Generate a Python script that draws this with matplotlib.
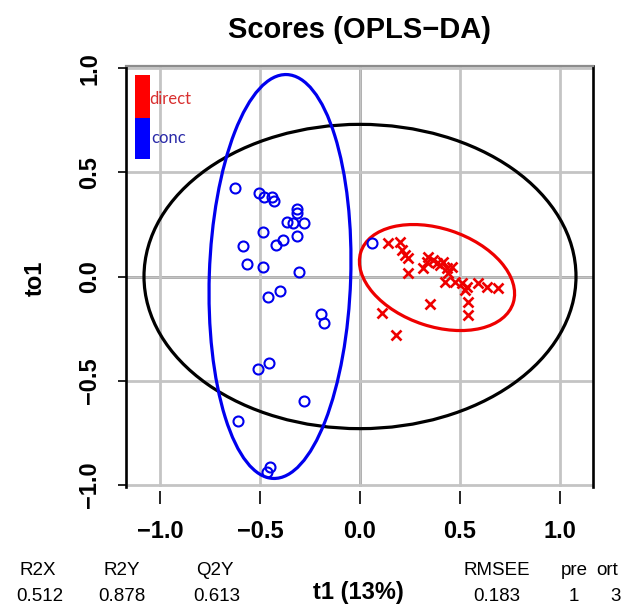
import matplotlib
matplotlib.use('Agg')
import matplotlib.pyplot as plt
from matplotlib.patches import Ellipse, Rectangle
import numpy as np

plt.rcParams['font.family'] = ['Liberation Sans', 'DejaVu Sans']

# Scores.
conc_t1 = [-0.625, -0.504, -0.48, -0.442, -0.43, -0.317, -0.314, -0.367,
           -0.337, -0.28, -0.314, -0.484, -0.387, -0.422, -0.584, -0.564,
           -0.484, -0.304, -0.40, -0.462, -0.197, -0.18, -0.512, -0.455,
           -0.279, -0.609, -0.45, -0.464, 0.058]
conc_to1 = [0.423, 0.402, 0.380, 0.383, 0.364, 0.322, 0.303, 0.260,
            0.255, 0.255, 0.196, 0.212, 0.175, 0.151, 0.146, 0.060,
            0.044, 0.023, -0.070, -0.097, -0.180, -0.221, -0.445, -0.413,
            -0.596, -0.692, -0.915, -0.939, 0.159]

direct_t1 = [0.142, 0.20, 0.208, 0.225, 0.242, 0.242, 0.317, 0.342, 0.333,
             0.367, 0.383, 0.40, 0.417, 0.433, 0.458, 0.425, 0.442, 0.475,
             0.508, 0.533, 0.525, 0.592, 0.633, 0.688, 0.542, 0.542, 0.35,
             0.108, 0.178]
direct_to1 = [0.159, 0.167, 0.127, 0.103, 0.087, 0.015, 0.039, 0.095, 0.071,
              0.079, 0.063, 0.055, 0.071, 0.039, 0.047, -0.025, 0.015, -0.025,
              -0.033, -0.049, -0.065, -0.033, -0.049, -0.057, -0.121, -0.185,
              -0.132, -0.177, -0.281]

# Ellipses: (center, width, height, angle)
hotelling_ellipse = ((0.0, 0.0), 2.16, 1.46, 0.0)
conc_ellipse = ((-0.40, 0.0), 0.707, 1.939, -2.0)
direct_ellipse = ((0.385, -0.005), 0.80, 0.47, -17.5)

tick_values = [-1.0, -0.5, 0.0, 0.5, 1.0]
tick_labels = ['\u22121.0', '\u22120.5', '0.0', '0.5', '1.0']

stat_names = ['R2X', 'R2Y', 'Q2Y', 'RMSEE', 'pre', 'ort']
stat_values = ['0.512', '0.878', '0.613', '0.183', '1', '3']
stat_name_x = [38, 122, 215, 497, 574, 607]
stat_value_x = [40, 122, 217, 497, 574, 616]

W, H = 630, 605
fig = plt.figure(figsize=(W / 100, H / 100), dpi=100)
ax = fig.add_axes([126 / W, 1 - 487 / H, (593 - 126) / W, (487 - 66) / H])

ax.set_xlim(-1.17, 1.165)
ax.set_ylim(-1.01, 1.01)

# Grid and zero lines.
ax.set_xticks(tick_values)
ax.set_yticks(tick_values)
ax.grid(True, color='#C4C4C4', lw=2.0, zorder=0)
ax.axhline(0, color='black', lw=2.0, zorder=1)
ax.axvline(0, color='black', lw=2.0, zorder=1)

# Box.
for side in ['left', 'right']:
    ax.spines[side].set_color('black')
    ax.spines[side].set_linewidth(1.9)
ax.spines['top'].set_color('#8C8C8C')
ax.spines['top'].set_linewidth(1.6)
ax.spines['bottom'].set_position(('outward', 3))
ax.spines['bottom'].set_color('none')

ax.set_xticklabels(tick_labels)
ax.set_yticklabels(tick_labels)
ax.tick_params(axis='x', length=9.4, width=1.2, pad=11, labelsize=17)
ax.tick_params(axis='y', length=5.8, width=1.2, pad=12, labelsize=17)
for lab in ax.get_xticklabels() + ax.get_yticklabels():
    lab.set_fontweight('bold')
plt.setp(ax.get_yticklabels(), rotation=90, va='center')

# Ellipses.
for (c, w, h, a), col in [(hotelling_ellipse, 'black'),
                          (conc_ellipse, '#0000EE'),
                          (direct_ellipse, '#EE0000')]:
    ax.add_patch(Ellipse(c, w, h, angle=a, fill=False, ec=col, lw=2.3,
                         zorder=3))

# Points.
ax.plot(conc_t1, conc_to1, 'o', mfc='none', mec='#0000EE', ms=7.2,
        mew=1.5, zorder=4)
ax.plot(direct_t1, direct_to1, 'x', color='#EE0000', ms=6.8, mew=1.9,
        zorder=4)

# Legend colour bar.
ax.add_patch(Rectangle((0.0193, 0.8765), 0.032, 0.102, color='#FF0000',
                       transform=ax.transAxes, zorder=5, lw=0))
ax.add_patch(Rectangle((0.0193, 0.779), 0.032, 0.0975, color='#0000FF',
                       transform=ax.transAxes, zorder=5, lw=0))
ax.text(0.049, 0.9216, 'direct', color='#D83030', fontsize=12,
        family=['Lato', 'DejaVu Sans'], transform=ax.transAxes,
        va='center', ha='left', zorder=6)
ax.text(0.053, 0.829, 'conc', color='#2A2AA8', fontsize=12,
        family=['Lato', 'DejaVu Sans'], transform=ax.transAxes,
        va='center', ha='left', zorder=6)

# Titles and labels.
fig.text(360 / W, 1 - 38 / H, 'Scores (OPLS\u2212DA)', ha='center',
         va='baseline', fontsize=21, fontweight='bold')
fig.text(35 / W, 1 - 278 / H, 'to1', ha='center', va='center',
         rotation=90, fontsize=17, fontweight='bold')
fig.text(358 / W, 1 - 599 / H, 't1 (13%)', ha='center', va='baseline',
         fontsize=17, fontweight='bold')

for name, value, xn, xv in zip(stat_names, stat_values, stat_name_x,
                               stat_value_x):
    fig.text(xn / W, 1 - 575 / H, name, ha='center', va='baseline',
             fontsize=13.5)
    fig.text(xv / W, 1 - 601 / H, value, ha='center', va='baseline',
             fontsize=13.5)

fig.savefig('out.png', dpi=100)
